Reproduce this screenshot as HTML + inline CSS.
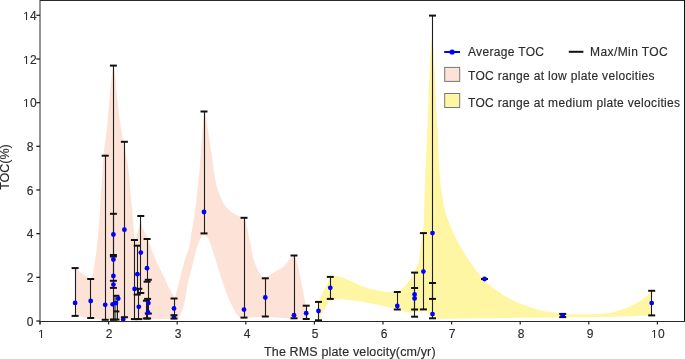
<!DOCTYPE html>
<html><head><meta charset="utf-8"><style>
html,body{margin:0;padding:0;background:#fff;}
div{will-change:transform;}
body{width:685px;height:359px;position:relative;overflow:hidden;font-family:"Liberation Sans",sans-serif;color:#2b2b2b;-webkit-text-stroke:0.15px #2b2b2b;}
svg{position:absolute;left:0;top:0;}
svg.one{position:static;display:inline;vertical-align:baseline;}
.xt{position:absolute;top:327.1px;width:40px;text-align:center;font-size:12px;line-height:14px;}
.yt{position:absolute;left:9.7px;width:40px;text-align:center;font-size:12px;line-height:14px;}
.lg{position:absolute;font-size:12px;line-height:14px;white-space:nowrap;letter-spacing:0.33px;}
.yl{position:absolute;left:-19.5px;top:160.0px;width:48px;text-align:center;font-size:12.5px;line-height:14px;transform:rotate(-90deg);white-space:nowrap;}
.xl{position:absolute;left:264px;top:345.3px;font-size:12.5px;line-height:14px;white-space:nowrap;letter-spacing:0.15px;}
</style></head><body>
<svg width="685" height="359" viewBox="0 0 685 359">
<path d="M75.30,268.50 C77.35,269.98 85.03,275.73 87.60,277.40 C90.17,279.07 90.18,278.32 90.70,278.50 C91.02,278.08 92.15,277.13 92.60,276.00 C93.05,274.87 92.73,276.13 93.40,271.70 C94.07,267.27 95.70,256.85 96.60,249.40 C97.50,241.95 98.20,234.07 98.80,227.00 C99.40,219.93 99.87,212.00 100.20,207.00 C100.53,202.00 100.45,202.40 100.80,197.00 C101.15,191.60 101.80,182.05 102.30,174.60 C102.80,167.15 103.07,159.73 103.80,152.30 C104.53,144.87 105.83,137.95 106.70,130.00 C107.57,122.05 108.07,114.43 109.00,104.60 C109.93,94.77 111.55,77.50 112.30,71.00 C113.05,64.50 113.30,66.50 113.50,65.60 C113.68,66.50 113.87,64.50 114.60,71.00 C115.33,77.50 116.79,94.77 117.90,104.60 C119.01,114.43 119.95,122.05 121.25,130.00 C122.55,137.95 124.41,144.87 125.70,152.30 C126.99,159.73 128.17,167.48 129.00,174.60 C129.83,181.72 130.15,188.82 130.70,195.00 C131.25,201.18 131.80,206.15 132.30,211.70 C132.80,217.25 133.33,223.87 133.70,228.30 C134.07,232.73 134.23,236.10 134.50,238.30 C134.77,240.50 135.17,240.97 135.30,241.50 C135.53,240.42 136.13,237.20 136.70,235.00 C137.27,232.80 138.02,230.80 138.70,228.30 C139.38,225.80 140.45,221.38 140.80,220.00 C141.13,221.38 142.02,225.97 142.80,228.30 C143.58,230.63 144.42,231.55 145.50,234.00 C146.58,236.45 148.07,239.78 149.30,243.00 C150.53,246.22 151.48,249.73 152.90,253.30 C154.32,256.87 156.07,260.68 157.80,264.40 C159.53,268.12 161.53,271.88 163.30,275.60 C165.07,279.32 166.73,283.37 168.40,286.70 C170.07,290.03 172.27,293.62 173.30,295.60 C174.33,297.58 174.38,298.10 174.60,298.60 C175.22,296.43 176.73,291.57 178.30,285.60 C179.87,279.63 182.13,269.40 184.00,262.80 C185.87,256.20 188.33,250.47 189.50,246.00 C190.67,241.53 190.15,241.23 191.00,236.00 C191.85,230.77 193.55,221.88 194.60,214.60 C195.65,207.32 196.48,199.73 197.30,192.30 C198.12,184.87 198.88,177.05 199.50,170.00 C200.12,162.95 200.50,156.67 201.00,150.00 C201.50,143.33 202.02,136.42 202.50,130.00 C202.98,123.58 203.67,114.58 203.90,111.50 C204.08,111.53 204.53,110.00 205.00,111.70 C205.47,113.40 205.98,117.27 206.70,121.70 C207.42,126.13 208.47,132.75 209.30,138.30 C210.13,143.85 210.92,149.43 211.70,155.00 C212.48,160.57 213.07,166.15 214.00,171.70 C214.93,177.25 215.85,183.30 217.30,188.30 C218.75,193.30 221.03,198.37 222.70,201.70 C224.37,205.03 225.53,206.37 227.30,208.30 C229.07,210.23 231.18,211.90 233.30,213.30 C235.42,214.70 238.22,215.95 240.00,216.70 C241.78,217.45 243.33,217.62 244.00,217.80 C244.30,218.35 245.13,218.70 245.80,221.10 C246.47,223.50 247.27,228.50 248.00,232.20 C248.73,235.90 249.47,239.60 250.20,243.30 C250.93,247.00 251.47,250.68 252.40,254.40 C253.33,258.12 254.50,262.27 255.80,265.60 C257.10,268.93 258.80,272.37 260.20,274.40 C261.60,276.43 262.72,277.60 264.20,277.80 C265.68,278.00 266.80,276.90 269.10,275.60 C271.40,274.30 275.72,271.40 278.00,270.00 C280.28,268.60 280.77,269.13 282.80,267.20 C284.83,265.27 288.33,260.38 290.20,258.40 C292.07,256.42 293.37,255.82 294.00,255.30 C294.42,256.17 295.57,257.55 296.50,260.50 C297.43,263.45 298.57,268.13 299.60,273.00 C300.63,277.87 301.77,284.83 302.70,289.70 C303.63,294.57 304.50,298.73 305.20,302.20 C305.90,305.67 306.45,308.07 306.90,310.50 C307.35,312.93 307.68,315.38 307.90,316.80 C308.12,318.22 308.15,318.63 308.20,319.00 C308.20,319.03 308.20,319.17 308.20,319.20 C305.83,319.13 301.18,319.17 294.00,318.80 C286.82,318.43 273.43,317.08 265.10,317.00 C256.77,316.92 248.10,318.10 244.00,318.30 C239.90,318.50 241.98,319.33 240.50,318.20 C239.02,317.07 237.12,314.87 235.10,311.50 C233.08,308.13 230.65,303.42 228.40,298.00 C226.15,292.58 223.85,285.77 221.60,279.00 C219.35,272.23 216.92,263.70 214.90,257.40 C212.88,251.10 210.82,244.57 209.50,241.20 C208.18,237.83 207.92,238.20 207.00,237.20 C206.08,236.20 205.00,235.15 204.00,235.20 C203.00,235.25 201.93,236.10 201.00,237.50 C200.07,238.90 199.20,241.52 198.40,243.60 C197.60,245.68 197.08,246.80 196.20,250.00 C195.32,253.20 194.57,256.87 193.10,262.80 C191.63,268.73 188.75,279.40 187.40,285.60 C186.05,291.80 185.93,295.65 185.00,300.00 C184.07,304.35 182.88,308.53 181.80,311.70 C180.72,314.87 179.05,317.78 178.50,319.00 C177.85,319.00 179.35,318.97 174.60,319.00 C169.85,319.03 158.43,319.15 150.00,319.20 C141.57,319.25 131.50,319.20 124.00,319.30 C116.50,319.40 110.55,320.02 105.00,319.80 C99.45,319.58 95.65,318.63 90.70,318.00 C85.75,317.37 77.87,316.33 75.30,316.00 C75.30,308.08 75.30,276.42 75.30,268.50Z" fill="#fce2d7"/>
<path d="M318.50,302.00 C320.47,297.83 328.33,281.17 330.30,277.00 C331.08,276.83 333.38,276.03 335.00,276.00 C336.62,275.97 338.33,276.40 340.00,276.80 C341.67,277.20 343.33,277.77 345.00,278.40 C346.67,279.03 348.33,279.83 350.00,280.60 C351.67,281.37 353.33,282.22 355.00,283.00 C356.67,283.78 357.50,284.35 360.00,285.30 C362.50,286.25 366.67,287.75 370.00,288.70 C373.33,289.65 376.67,290.43 380.00,291.00 C383.33,291.57 387.10,292.03 390.00,292.10 C392.90,292.17 394.95,292.38 397.40,291.40 C399.85,290.42 402.50,288.30 404.70,286.20 C406.90,284.10 409.12,281.00 410.60,278.80 C412.08,276.60 412.28,275.80 413.60,273.00 C414.92,270.20 417.18,267.50 418.50,262.00 C419.82,256.50 420.63,246.67 421.50,240.00 C422.37,233.33 423.12,232.00 423.70,222.00 C424.28,212.00 424.37,196.17 425.00,180.00 C425.63,163.83 426.67,145.00 427.50,125.00 C428.33,105.00 429.17,75.55 430.00,60.00 C430.83,44.45 432.08,36.42 432.50,31.70 C432.70,36.42 433.33,53.62 433.70,60.00 C434.07,66.38 434.18,60.00 434.70,70.00 C435.22,80.00 436.32,110.00 436.80,120.00 C437.28,130.00 437.20,122.17 437.60,130.00 C438.00,137.83 438.53,156.83 439.20,167.00 C439.87,177.17 440.42,183.00 441.60,191.00 C442.78,199.00 443.93,207.17 446.30,215.00 C448.67,222.83 451.85,230.17 455.80,238.00 C459.75,245.83 465.50,255.23 470.00,262.00 C474.50,268.77 478.70,274.10 482.80,278.60 C486.90,283.10 490.20,285.68 494.60,289.00 C499.00,292.32 504.33,295.83 509.20,298.50 C514.07,301.17 518.93,303.13 523.80,305.00 C528.67,306.87 533.53,308.43 538.40,309.70 C543.27,310.97 548.90,311.92 553.00,312.60 C557.10,313.28 559.33,313.52 563.00,313.80 C566.67,314.08 570.50,314.23 575.00,314.30 C579.50,314.37 584.78,314.37 590.00,314.20 C595.22,314.03 601.97,313.80 606.30,313.30 C610.63,312.80 612.60,312.12 616.00,311.20 C619.40,310.28 623.20,309.22 626.70,307.80 C630.20,306.38 634.45,304.03 637.00,302.70 C639.55,301.37 640.30,301.00 642.00,299.80 C643.70,298.60 645.58,296.97 647.20,295.50 C648.82,294.03 650.95,291.75 651.70,291.00 C651.70,295.07 651.70,311.33 651.70,315.40 C646.42,315.58 628.62,316.23 620.00,316.50 C611.38,316.77 612.50,316.82 600.00,317.00 C587.50,317.18 570.83,317.32 545.00,317.60 C519.17,317.88 463.70,318.52 445.00,318.70 C426.30,318.88 435.33,319.20 432.80,318.70 C430.27,318.20 430.67,316.82 429.80,315.70 C428.93,314.58 428.58,312.98 427.60,312.00 C426.62,311.02 424.52,310.17 423.90,309.80 C423.05,310.05 420.40,310.93 418.80,311.30 C417.20,311.67 415.67,311.75 414.30,312.00 C412.93,312.25 412.20,312.87 410.60,312.80 C409.00,312.73 406.90,312.15 404.70,311.60 C402.50,311.05 399.85,310.17 397.40,309.50 C394.95,308.83 392.90,308.30 390.00,307.60 C387.10,306.90 386.67,306.55 380.00,305.30 C373.33,304.05 358.28,301.15 350.00,300.10 C341.72,299.05 333.58,299.18 330.30,299.00 C328.33,302.55 320.47,316.75 318.50,320.30 C318.50,317.25 318.50,305.05 318.50,302.00Z" fill="#fff6a4"/>
<circle cx="123.2" cy="319.4" r="2.4" fill="#0000ff"/>
<circle cx="174.0" cy="316.9" r="2.4" fill="#0000ff"/>
<line x1="75.5" y1="268.1" x2="75.5" y2="315.9" stroke="#1e1e1e" stroke-width="1.1"/>
<line x1="71.6" y1="268.1" x2="78.6" y2="268.1" stroke="#111" stroke-width="2"/>
<line x1="71.6" y1="315.9" x2="78.6" y2="315.9" stroke="#111" stroke-width="2"/>
<line x1="90.5" y1="279" x2="90.5" y2="318" stroke="#1e1e1e" stroke-width="1.1"/>
<line x1="87.2" y1="279" x2="94.2" y2="279" stroke="#111" stroke-width="2"/>
<line x1="87.2" y1="318" x2="94.2" y2="318" stroke="#111" stroke-width="2"/>
<line x1="105.5" y1="155.7" x2="105.5" y2="319.8" stroke="#1e1e1e" stroke-width="1.1"/>
<line x1="101.7" y1="155.7" x2="108.7" y2="155.7" stroke="#111" stroke-width="2"/>
<line x1="101.7" y1="319.8" x2="108.7" y2="319.8" stroke="#111" stroke-width="2"/>
<line x1="113.5" y1="65.6" x2="113.5" y2="319.7" stroke="#1e1e1e" stroke-width="1.1"/>
<line x1="109.9" y1="65.6" x2="116.9" y2="65.6" stroke="#111" stroke-width="2"/>
<line x1="109.9" y1="319.7" x2="116.9" y2="319.7" stroke="#111" stroke-width="2"/>
<line x1="113.5" y1="213.8" x2="113.5" y2="255" stroke="#1e1e1e" stroke-width="1.1"/>
<line x1="109.9" y1="213.8" x2="116.9" y2="213.8" stroke="#111" stroke-width="2"/>
<line x1="109.9" y1="255" x2="116.9" y2="255" stroke="#111" stroke-width="2"/>
<line x1="113.5" y1="256.5" x2="113.5" y2="280.8" stroke="#1e1e1e" stroke-width="1.1"/>
<line x1="109.9" y1="256.5" x2="116.9" y2="256.5" stroke="#111" stroke-width="2"/>
<line x1="109.9" y1="280.8" x2="116.9" y2="280.8" stroke="#111" stroke-width="2"/>
<line x1="109.9" y1="287.9" x2="116.9" y2="287.9" stroke="#111" stroke-width="2"/>
<line x1="124.5" y1="141.8" x2="124.5" y2="317.2" stroke="#1e1e1e" stroke-width="1.1"/>
<line x1="120.9" y1="141.8" x2="127.9" y2="141.8" stroke="#111" stroke-width="2"/>
<line x1="120.9" y1="317.2" x2="127.9" y2="317.2" stroke="#111" stroke-width="2"/>
<line x1="134.5" y1="240" x2="134.5" y2="319.1" stroke="#1e1e1e" stroke-width="1.1"/>
<line x1="130.9" y1="240" x2="137.9" y2="240" stroke="#111" stroke-width="2"/>
<line x1="130.9" y1="319.1" x2="137.9" y2="319.1" stroke="#111" stroke-width="2"/>
<line x1="137.5" y1="245.7" x2="137.5" y2="294.6" stroke="#1e1e1e" stroke-width="1.1"/>
<line x1="133.7" y1="245.7" x2="140.7" y2="245.7" stroke="#111" stroke-width="2"/>
<line x1="133.7" y1="294.6" x2="140.7" y2="294.6" stroke="#111" stroke-width="2"/>
<line x1="138.5" y1="288.8" x2="138.5" y2="319.1" stroke="#1e1e1e" stroke-width="1.1"/>
<line x1="135.3" y1="288.8" x2="142.3" y2="288.8" stroke="#111" stroke-width="2"/>
<line x1="135.3" y1="319.1" x2="142.3" y2="319.1" stroke="#111" stroke-width="2"/>
<line x1="140.5" y1="216" x2="140.5" y2="293" stroke="#1e1e1e" stroke-width="1.1"/>
<line x1="137.3" y1="216" x2="144.3" y2="216" stroke="#111" stroke-width="2"/>
<line x1="137.3" y1="293" x2="144.3" y2="293" stroke="#111" stroke-width="2"/>
<line x1="147.5" y1="239" x2="147.5" y2="281.7" stroke="#1e1e1e" stroke-width="1.1"/>
<line x1="143.6" y1="239" x2="150.6" y2="239" stroke="#111" stroke-width="2"/>
<line x1="143.6" y1="281.7" x2="150.6" y2="281.7" stroke="#111" stroke-width="2"/>
<line x1="148.5" y1="279.8" x2="148.5" y2="313.6" stroke="#1e1e1e" stroke-width="1.1"/>
<line x1="144.8" y1="279.8" x2="151.8" y2="279.8" stroke="#111" stroke-width="2"/>
<line x1="144.8" y1="313.6" x2="151.8" y2="313.6" stroke="#111" stroke-width="2"/>
<line x1="147.5" y1="298.9" x2="147.5" y2="318.5" stroke="#1e1e1e" stroke-width="1.1"/>
<line x1="144.1" y1="298.9" x2="151.1" y2="298.9" stroke="#111" stroke-width="2"/>
<line x1="144.1" y1="318.5" x2="151.1" y2="318.5" stroke="#111" stroke-width="2"/>
<line x1="146.5" y1="300.7" x2="146.5" y2="318.5" stroke="#1e1e1e" stroke-width="1.1"/>
<line x1="142.9" y1="300.7" x2="149.9" y2="300.7" stroke="#111" stroke-width="2"/>
<line x1="142.9" y1="318.5" x2="149.9" y2="318.5" stroke="#111" stroke-width="2"/>
<line x1="174.5" y1="298.5" x2="174.5" y2="315.2" stroke="#1e1e1e" stroke-width="1.1"/>
<line x1="170.5" y1="298.5" x2="177.5" y2="298.5" stroke="#111" stroke-width="2"/>
<line x1="170.5" y1="315.2" x2="177.5" y2="315.2" stroke="#111" stroke-width="2"/>
<line x1="170.5" y1="318.6" x2="177.5" y2="318.6" stroke="#111" stroke-width="2"/>
<line x1="204.5" y1="111.5" x2="204.5" y2="233.4" stroke="#1e1e1e" stroke-width="1.1"/>
<line x1="200.5" y1="111.5" x2="207.5" y2="111.5" stroke="#111" stroke-width="2"/>
<line x1="200.5" y1="233.4" x2="207.5" y2="233.4" stroke="#111" stroke-width="2"/>
<line x1="244.5" y1="217.8" x2="244.5" y2="317.6" stroke="#1e1e1e" stroke-width="1.1"/>
<line x1="240.5" y1="217.8" x2="247.5" y2="217.8" stroke="#111" stroke-width="2"/>
<line x1="240.5" y1="317.6" x2="247.5" y2="317.6" stroke="#111" stroke-width="2"/>
<line x1="265.5" y1="278.3" x2="265.5" y2="316.5" stroke="#1e1e1e" stroke-width="1.1"/>
<line x1="261.8" y1="278.3" x2="268.8" y2="278.3" stroke="#111" stroke-width="2"/>
<line x1="261.8" y1="316.5" x2="268.8" y2="316.5" stroke="#111" stroke-width="2"/>
<line x1="294.5" y1="255.5" x2="294.5" y2="318.3" stroke="#1e1e1e" stroke-width="1.1"/>
<line x1="290.5" y1="255.5" x2="297.5" y2="255.5" stroke="#111" stroke-width="2"/>
<line x1="290.5" y1="318.3" x2="297.5" y2="318.3" stroke="#111" stroke-width="2"/>
<line x1="306.5" y1="305.7" x2="306.5" y2="319" stroke="#1e1e1e" stroke-width="1.1"/>
<line x1="302.7" y1="305.7" x2="309.7" y2="305.7" stroke="#111" stroke-width="2"/>
<line x1="302.7" y1="319" x2="309.7" y2="319" stroke="#111" stroke-width="2"/>
<line x1="318.5" y1="301.9" x2="318.5" y2="320.3" stroke="#1e1e1e" stroke-width="1.1"/>
<line x1="315.0" y1="301.9" x2="322.0" y2="301.9" stroke="#111" stroke-width="2"/>
<line x1="315.0" y1="320.3" x2="322.0" y2="320.3" stroke="#111" stroke-width="2"/>
<line x1="330.5" y1="276.9" x2="330.5" y2="298.9" stroke="#1e1e1e" stroke-width="1.1"/>
<line x1="326.8" y1="276.9" x2="333.8" y2="276.9" stroke="#111" stroke-width="2"/>
<line x1="326.8" y1="298.9" x2="333.8" y2="298.9" stroke="#111" stroke-width="2"/>
<line x1="397.5" y1="292" x2="397.5" y2="309.5" stroke="#1e1e1e" stroke-width="1.1"/>
<line x1="393.8" y1="292" x2="400.8" y2="292" stroke="#111" stroke-width="2"/>
<line x1="393.8" y1="309.5" x2="400.8" y2="309.5" stroke="#111" stroke-width="2"/>
<line x1="414.5" y1="272.6" x2="414.5" y2="316.7" stroke="#1e1e1e" stroke-width="1.1"/>
<line x1="411.1" y1="272.6" x2="418.1" y2="272.6" stroke="#111" stroke-width="2"/>
<line x1="411.1" y1="316.7" x2="418.1" y2="316.7" stroke="#111" stroke-width="2"/>
<line x1="414.5" y1="288" x2="414.5" y2="309.5" stroke="#1e1e1e" stroke-width="1.1"/>
<line x1="411.1" y1="288" x2="418.1" y2="288" stroke="#111" stroke-width="2"/>
<line x1="411.1" y1="309.5" x2="418.1" y2="309.5" stroke="#111" stroke-width="2"/>
<line x1="423.5" y1="233.1" x2="423.5" y2="309.4" stroke="#1e1e1e" stroke-width="1.1"/>
<line x1="419.9" y1="233.1" x2="426.9" y2="233.1" stroke="#111" stroke-width="2"/>
<line x1="419.9" y1="309.4" x2="426.9" y2="309.4" stroke="#111" stroke-width="2"/>
<line x1="432.5" y1="15.6" x2="432.5" y2="318.3" stroke="#1e1e1e" stroke-width="1.1"/>
<line x1="429.0" y1="15.6" x2="436.0" y2="15.6" stroke="#111" stroke-width="2"/>
<line x1="429.0" y1="318.3" x2="436.0" y2="318.3" stroke="#111" stroke-width="2"/>
<line x1="432.5" y1="283" x2="432.5" y2="298.9" stroke="#1e1e1e" stroke-width="1.1"/>
<line x1="429.0" y1="283" x2="436.0" y2="283" stroke="#111" stroke-width="2"/>
<line x1="429.0" y1="298.9" x2="436.0" y2="298.9" stroke="#111" stroke-width="2"/>
<line x1="481.0" y1="279" x2="488.0" y2="279" stroke="#111" stroke-width="2"/>
<line x1="562.5" y1="313.9" x2="562.5" y2="317.1" stroke="#1e1e1e" stroke-width="1.1"/>
<line x1="559.2" y1="313.9" x2="566.2" y2="313.9" stroke="#111" stroke-width="2"/>
<line x1="559.2" y1="317.1" x2="566.2" y2="317.1" stroke="#111" stroke-width="2"/>
<line x1="651.5" y1="290.8" x2="651.5" y2="315.4" stroke="#1e1e1e" stroke-width="1.1"/>
<line x1="648.2" y1="290.8" x2="655.2" y2="290.8" stroke="#111" stroke-width="2"/>
<line x1="648.2" y1="315.4" x2="655.2" y2="315.4" stroke="#111" stroke-width="2"/>
<line x1="115.0" y1="296" x2="115.0" y2="319.5" stroke="#1e1e1e" stroke-width="1.15"/>
<line x1="117.4" y1="300" x2="117.4" y2="319.5" stroke="#1e1e1e" stroke-width="1.15"/>
<line x1="118.9" y1="296" x2="118.9" y2="300" stroke="#1e1e1e" stroke-width="1.15"/>
<line x1="113.5" y1="295.8" x2="119.3" y2="295.8" stroke="#111" stroke-width="2"/>
<line x1="113.5" y1="311.4" x2="119.4" y2="311.4" stroke="#111" stroke-width="2"/>
<line x1="110" y1="319.6" x2="119.5" y2="319.6" stroke="#111" stroke-width="2"/>
<circle cx="75.1" cy="302.9" r="2.4" fill="#0000ff"/>
<circle cx="90.7" cy="301" r="2.4" fill="#0000ff"/>
<circle cx="105.2" cy="304.8" r="2.4" fill="#0000ff"/>
<circle cx="113.4" cy="234.5" r="2.4" fill="#0000ff"/>
<circle cx="113.4" cy="259.5" r="2.4" fill="#0000ff"/>
<circle cx="113.4" cy="276" r="2.4" fill="#0000ff"/>
<circle cx="113.4" cy="284.6" r="2.4" fill="#0000ff"/>
<circle cx="112.6" cy="304.3" r="2.4" fill="#0000ff"/>
<circle cx="115.9" cy="303.1" r="2.4" fill="#0000ff"/>
<circle cx="118.2" cy="298.6" r="2.4" fill="#0000ff"/>
<circle cx="124.4" cy="229.7" r="2.4" fill="#0000ff"/>
<circle cx="134.6" cy="288.9" r="2.4" fill="#0000ff"/>
<circle cx="137.4" cy="274.2" r="2.4" fill="#0000ff"/>
<circle cx="138.8" cy="306.8" r="2.4" fill="#0000ff"/>
<circle cx="140.8" cy="252.6" r="2.4" fill="#0000ff"/>
<circle cx="147.0" cy="268.2" r="2.4" fill="#0000ff"/>
<circle cx="148.4" cy="303.1" r="2.4" fill="#0000ff"/>
<circle cx="148.0" cy="312.4" r="2.4" fill="#0000ff"/>
<circle cx="174.0" cy="308.4" r="2.4" fill="#0000ff"/>
<circle cx="204" cy="212" r="2.4" fill="#0000ff"/>
<circle cx="244" cy="309.6" r="2.4" fill="#0000ff"/>
<circle cx="265.3" cy="297.5" r="2.4" fill="#0000ff"/>
<circle cx="294" cy="315.2" r="2.4" fill="#0000ff"/>
<circle cx="306.2" cy="313.2" r="2.4" fill="#0000ff"/>
<circle cx="318.5" cy="311" r="2.4" fill="#0000ff"/>
<circle cx="330.3" cy="287.8" r="2.4" fill="#0000ff"/>
<circle cx="397.3" cy="306" r="2.4" fill="#0000ff"/>
<circle cx="414.6" cy="294.4" r="2.4" fill="#0000ff"/>
<circle cx="414.6" cy="298.4" r="2.4" fill="#0000ff"/>
<circle cx="423.4" cy="271.6" r="2.4" fill="#0000ff"/>
<circle cx="432.5" cy="233.1" r="2.4" fill="#0000ff"/>
<circle cx="432.5" cy="314.1" r="2.4" fill="#0000ff"/>
<circle cx="484.5" cy="279" r="2.4" fill="#0000ff"/>
<circle cx="562.7" cy="315.4" r="2.4" fill="#0000ff"/>
<circle cx="651.7" cy="303.1" r="2.4" fill="#0000ff"/>
<line x1="40" y1="0" x2="40" y2="324.5" stroke="#2a2a2a" stroke-width="1"/>
<line x1="39.5" y1="321.5" x2="685" y2="321.5" stroke="#2a2a2a" stroke-width="1.1"/>
<line x1="40" y1="0.5" x2="685" y2="0.5" stroke="#2a2a2a" stroke-width="1"/>
<line x1="684.5" y1="0" x2="684.5" y2="321" stroke="#111" stroke-width="1"/>
<line x1="40.00" y1="321" x2="40.00" y2="324.5" stroke="#222" stroke-width="1.2"/>
<line x1="108.60" y1="321" x2="108.60" y2="324.5" stroke="#222" stroke-width="1.2"/>
<line x1="177.20" y1="321" x2="177.20" y2="324.5" stroke="#222" stroke-width="1.2"/>
<line x1="245.80" y1="321" x2="245.80" y2="324.5" stroke="#222" stroke-width="1.2"/>
<line x1="314.40" y1="321" x2="314.40" y2="324.5" stroke="#222" stroke-width="1.2"/>
<line x1="383.00" y1="321" x2="383.00" y2="324.5" stroke="#222" stroke-width="1.2"/>
<line x1="451.60" y1="321" x2="451.60" y2="324.5" stroke="#222" stroke-width="1.2"/>
<line x1="520.20" y1="321" x2="520.20" y2="324.5" stroke="#222" stroke-width="1.2"/>
<line x1="588.80" y1="321" x2="588.80" y2="324.5" stroke="#222" stroke-width="1.2"/>
<line x1="657.40" y1="321" x2="657.40" y2="324.5" stroke="#222" stroke-width="1.2"/>
<line x1="36.3" y1="321.00" x2="40" y2="321.00" stroke="#222" stroke-width="1.3"/>
<line x1="36.3" y1="277.33" x2="40" y2="277.33" stroke="#222" stroke-width="1.3"/>
<line x1="36.3" y1="233.66" x2="40" y2="233.66" stroke="#222" stroke-width="1.3"/>
<line x1="36.3" y1="189.98" x2="40" y2="189.98" stroke="#222" stroke-width="1.3"/>
<line x1="36.3" y1="146.31" x2="40" y2="146.31" stroke="#222" stroke-width="1.3"/>
<line x1="36.3" y1="102.64" x2="40" y2="102.64" stroke="#222" stroke-width="1.3"/>
<line x1="36.3" y1="58.97" x2="40" y2="58.97" stroke="#222" stroke-width="1.3"/>
<line x1="36.3" y1="15.30" x2="40" y2="15.30" stroke="#222" stroke-width="1.3"/>
<line x1="444.2" y1="52" x2="460" y2="52" stroke="#0000ff" stroke-width="2"/>
<circle cx="452.1" cy="52" r="2.6" fill="#0000ff"/>
<line x1="568.8" y1="51.8" x2="583.4" y2="51.8" stroke="#111" stroke-width="2"/>
<rect x="444.7" y="67.4" width="15" height="14" fill="#fce2d7" stroke="#777" stroke-width="1"/>
<rect x="444.7" y="93.5" width="15" height="14" fill="#fff6a4" stroke="#777" stroke-width="1"/>
</svg>
<div class="xt" style="left:20.70px"><svg class="one" width="6.67" height="8.26" viewBox="0 0 1139 1409"><path d="M515,1409L515,172L197,399L197,229L530,0L696,0L696,1409Z" fill="#2b2b2b"/></svg></div>
<div class="xt" style="left:89.30px">2</div>
<div class="xt" style="left:157.90px">3</div>
<div class="xt" style="left:226.50px">4</div>
<div class="xt" style="left:295.10px">5</div>
<div class="xt" style="left:363.70px">6</div>
<div class="xt" style="left:432.30px">7</div>
<div class="xt" style="left:500.90px">8</div>
<div class="xt" style="left:569.50px">9</div>
<div class="xt" style="left:638.10px"><svg class="one" width="6.67" height="8.26" viewBox="0 0 1139 1409"><path d="M515,1409L515,172L197,399L197,229L530,0L696,0L696,1409Z" fill="#2b2b2b"/></svg>0</div>
<div class="yt" style="top:314.60px">0</div>
<div class="yt" style="top:270.93px">2</div>
<div class="yt" style="top:227.26px">4</div>
<div class="yt" style="top:183.58px">6</div>
<div class="yt" style="top:139.91px">8</div>
<div class="yt" style="top:96.24px"><svg class="one" width="6.67" height="8.26" viewBox="0 0 1139 1409"><path d="M515,1409L515,172L197,399L197,229L530,0L696,0L696,1409Z" fill="#2b2b2b"/></svg>0</div>
<div class="yt" style="top:52.57px"><svg class="one" width="6.67" height="8.26" viewBox="0 0 1139 1409"><path d="M515,1409L515,172L197,399L197,229L530,0L696,0L696,1409Z" fill="#2b2b2b"/></svg>2</div>
<div class="yt" style="top:8.90px"><svg class="one" width="6.67" height="8.26" viewBox="0 0 1139 1409"><path d="M515,1409L515,172L197,399L197,229L530,0L696,0L696,1409Z" fill="#2b2b2b"/></svg>4</div>
<div class="lg" style="left:468px;top:44.8px">Average TOC</div>
<div class="lg" style="left:589.7px;top:44.8px;letter-spacing:0.42px">Max/Min TOC</div>
<div class="lg" style="left:467.7px;top:68.8px">TOC range at low plate velocities</div>
<div class="lg" style="left:467.7px;top:95.8px">TOC range at medium plate velocities</div>
<div class="yl">TOC(%)</div>
<div class="xl">The RMS plate velocity(cm/yr)</div>
</body></html>
